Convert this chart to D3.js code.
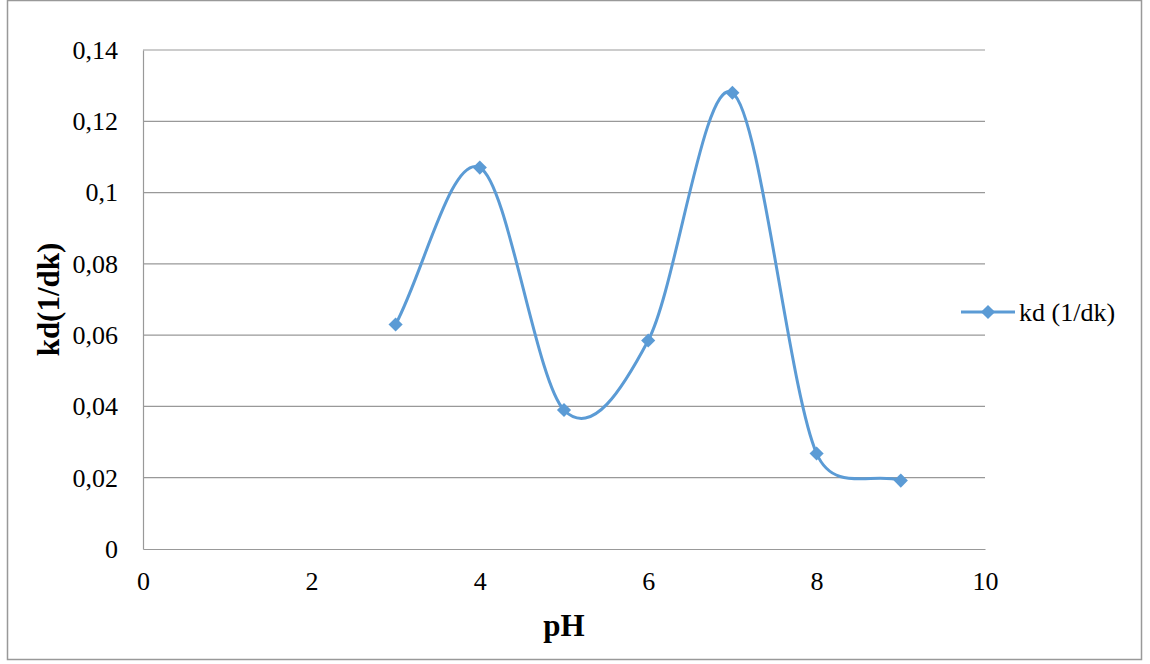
<!DOCTYPE html>
<html><head><meta charset="utf-8">
<script src="https://cdn.jsdelivr.net/npm/d3@7"></script>
<style>body{margin:0;background:#fff}svg{display:block}</style>
</head><body>
<svg id="c" width="1150" height="664"></svg>
<script>
const phValues = [3, 4, 5, 6, 7, 8, 9];
const kdValues = [0.063, 0.107, 0.039, 0.0585, 0.128, 0.0268, 0.0192];
const xTicks = [0, 2, 4, 6, 8, 10];
const yTicks = [0, 0.02, 0.04, 0.06, 0.08, 0.1, 0.12, 0.14];
const seriesName = "kd (1/dk)";
const xTitle = "pH";
const yTitle = "kd(1/dk)";

const svg = d3.select("#c");
const font = "'Liberation Serif', 'Times New Roman', serif";
const color = "#5B9BD5";

svg.append("rect").attr("x", 7.5).attr("y", 0.5).attr("width", 1134).attr("height", 659)
  .attr("fill", "#fff").attr("stroke", "#999").attr("stroke-width", 1.5);

const x = d3.scaleLinear().domain([0, 10]).range([143, 985]);
const y = d3.scaleLinear().domain([0, 0.14]).range([549, 50]);

const fmtY = v => { if (v === 0) return "0"; let s = v.toFixed(2); if (s.endsWith("0")) s = v.toFixed(1); return s.replace(".", ","); };

// gridlines
svg.append("g").selectAll("line").data(yTicks.filter(d => d > 0)).join("line")
  .attr("x1", x(0)).attr("x2", x(10)).attr("y1", d => y(d)).attr("y2", d => y(d))
  .attr("stroke", "#999").attr("stroke-width", 1.2);

// axes
const yAxis = d3.axisLeft(y).tickValues(yTicks).tickFormat(fmtY).tickSize(0).tickPadding(25);
const gy = svg.append("g").attr("transform", `translate(${x(0)},0)`).call(yAxis);
gy.select(".domain").attr("stroke", "#999").attr("stroke-width", 1.2);
gy.selectAll("text").attr("font-family", font).attr("font-size", 26).attr("fill", "#000");

const xAxis = d3.axisBottom(x).tickValues(xTicks).tickFormat(d => String(d)).tickSize(0).tickPadding(23);
const gx = svg.append("g").attr("transform", `translate(0,${y(0)})`).call(xAxis);
gx.select(".domain").attr("stroke", "#999").attr("stroke-width", 1.2);
gx.selectAll("text").attr("font-family", font).attr("font-size", 26).attr("fill", "#000");

// titles
svg.append("text").attr("x", (x(0) + x(10)) / 2).attr("y", 636).attr("text-anchor", "middle")
  .attr("font-family", font).attr("font-size", 31).attr("font-weight", "bold").text(xTitle);
svg.append("text").attr("transform", `translate(59,${(y(0) + y(0.14)) / 2}) rotate(-90)`)
  .attr("text-anchor", "middle").attr("font-family", font).attr("font-size", 31).attr("font-weight", "bold").text(yTitle);

// Excel-style smoothed line: Bezier segments with limited control arms
const data = phValues.map((p, i) => ({ p, k: kdValues[i] }));
const pts = data.map(d => [x(d.p), y(d.k)]);
const dist = (a, b) => Math.hypot(a[0] - b[0], a[1] - b[1]);
const path = d3.path();
path.moveTo(pts[0][0], pts[0][1]);
for (let i = 0; i < pts.length - 1; i++) {
  const p1 = pts[i], p2 = pts[i + 1];
  const p0 = i > 0 ? pts[i - 1] : p1;
  const p3 = i + 2 < pts.length ? pts[i + 2] : p2;
  const d12 = dist(p1, p2), d02 = dist(p0, p2), d13 = dist(p1, p3);
  let f = (p0 === p1) ? 1 / 3 : 1 / 6;
  let g = (p2 === p3) ? 1 / 3 : 1 / 6;
  if (!(d02 / 6 < d12 / 2 && d13 / 6 < d12 / 2)) {
    if (p0 !== p1 && d02 / 6 >= d12 / 2) f = d12 / d02 / 2;
    if (p2 !== p3 && d13 / 6 >= d12 / 2) g = d12 / d13 / 2;
  }
  const c1 = [p1[0] + f * (p2[0] - p0[0]), p1[1] + f * (p2[1] - p0[1])];
  const c2 = [p2[0] - g * (p3[0] - p1[0]), p2[1] - g * (p3[1] - p1[1])];
  path.bezierCurveTo(c1[0], c1[1], c2[0], c2[1], p2[0], p2[1]);
}
svg.append("path").attr("d", path.toString()).attr("fill", "none")
  .attr("stroke", color).attr("stroke-width", 3);

const diamond = d3.symbol().type(d3.symbolSquare).size(100);
svg.append("g").selectAll("path").data(data).join("path")
  .attr("d", diamond()).attr("fill", color)
  .attr("transform", d => `translate(${x(d.p)},${y(d.k)}) rotate(45)`);

// legend
const lg = svg.append("g");
lg.append("line").attr("x1", 961).attr("x2", 1015).attr("y1", 312).attr("y2", 312)
  .attr("stroke", color).attr("stroke-width", 3);
lg.append("path").attr("d", diamond()).attr("fill", color).attr("transform", "translate(988,312) rotate(45)");
lg.append("text").attr("x", 1019).attr("y", 321).attr("font-family", font).attr("font-size", 26).text(seriesName);
</script>
</body></html>
